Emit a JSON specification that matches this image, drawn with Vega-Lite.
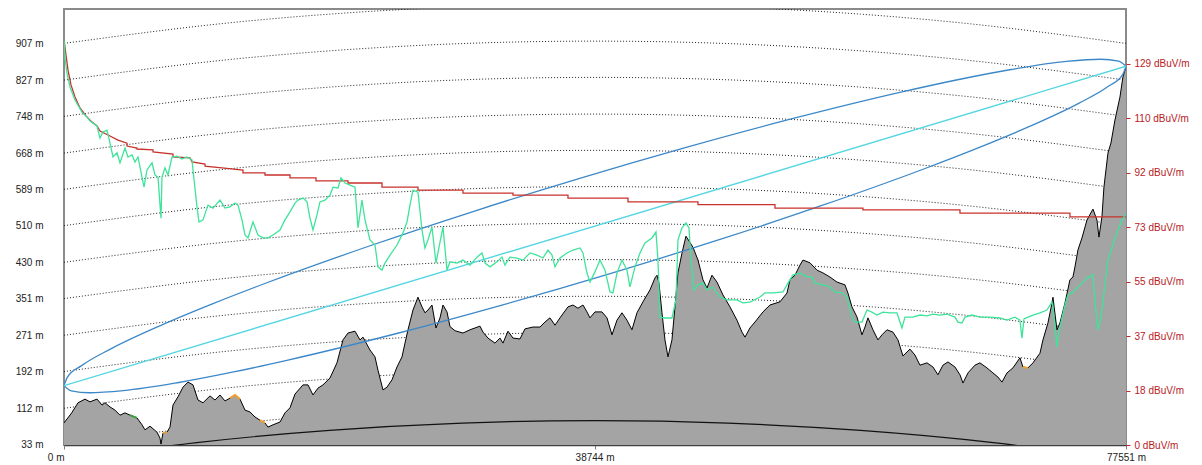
{
  "$schema": "https://vega.github.io/schema/vega-lite/v6.json",
  "width": 1062,
  "height": 436,
  "autosize": {"type": "none"},
  "padding": {"left": 64, "top": 9, "right": 76, "bottom": 20},
  "background": "#ffffff",
  "config": {
    "view": {"stroke": "#8a8a8a", "strokeWidth": 2},
    "font": "Liberation Sans",
    "axis": {"labelFont": "Liberation Sans", "labelFontSize": 10, "grid": false, "title": null}
  },
  "datasets": {
    "terrain": [
      {"d":0,"m":80},{"d":562,"m":102},{"d":1022,"m":124},{"d":1533,"m":132},{"d":1899,"m":126},{"d":2410,"m":132},{"d":2775,"m":119},{"d":2994,"m":124},{"d":3359,"m":115},{"d":3724,"m":108},{"d":4089,"m":97},{"d":4454,"m":102},{"d":4819,"m":97},{"d":5330,"m":91},{"d":5696,"m":76},{"d":5915,"m":65},{"d":6280,"m":73},{"d":6791,"m":60},{"d":7010,"m":47},{"d":7083,"m":34},{"d":7229,"m":58},{"d":7521,"m":60},{"d":7740,"m":71},{"d":7959,"m":119},{"d":8324,"m":137},{"d":8689,"m":158},{"d":9054,"m":169},{"d":9420,"m":163},{"d":9785,"m":130},{"d":10150,"m":124},{"d":10661,"m":139},{"d":11026,"m":130},{"d":11391,"m":141},{"d":11756,"m":128},{"d":12121,"m":134},{"d":12486,"m":141},{"d":12852,"m":132},{"d":13217,"m":108},{"d":13582,"m":104},{"d":13947,"m":93},{"d":14312,"m":86},{"d":14677,"m":80},{"d":14896,"m":71},{"d":15261,"m":76},{"d":15772,"m":82},{"d":16137,"m":102},{"d":16503,"m":113},{"d":16868,"m":143},{"d":17452,"m":163},{"d":17817,"m":163},{"d":18182,"m":141},{"d":18547,"m":156},{"d":18912,"m":163},{"d":19423,"m":178},{"d":19934,"m":211},{"d":20373,"m":261},{"d":20738,"m":276},{"d":21249,"m":280},{"d":21614,"m":261},{"d":21833,"m":267},{"d":22344,"m":239},{"d":22709,"m":224},{"d":22928,"m":195},{"d":23293,"m":152},{"d":23585,"m":158},{"d":23951,"m":174},{"d":24316,"m":202},{"d":24681,"m":224},{"d":24900,"m":254},{"d":25119,"m":283},{"d":25484,"m":326},{"d":25849,"m":354},{"d":26141,"m":333},{"d":26360,"m":320},{"d":26579,"m":326},{"d":26871,"m":337},{"d":27163,"m":287},{"d":27456,"m":309},{"d":27675,"m":337},{"d":27967,"m":322},{"d":28186,"m":290},{"d":28551,"m":281},{"d":29135,"m":276},{"d":29646,"m":283},{"d":30376,"m":291},{"d":30595,"m":278},{"d":30960,"m":265},{"d":31472,"m":254},{"d":31837,"m":265},{"d":32056,"m":254},{"d":32421,"m":280},{"d":32786,"m":265},{"d":33297,"m":263},{"d":33662,"m":285},{"d":34246,"m":289},{"d":34758,"m":289},{"d":35123,"m":300},{"d":35488,"m":309},{"d":35853,"m":293},{"d":36218,"m":309},{"d":36802,"m":333},{"d":37167,"m":337},{"d":37532,"m":330},{"d":37897,"m":337},{"d":38189,"m":322},{"d":38409,"m":309},{"d":38774,"m":322},{"d":39285,"m":322},{"d":39650,"m":309},{"d":40015,"m":272},{"d":40380,"m":304},{"d":40745,"m":320},{"d":41110,"m":304},{"d":41475,"m":283},{"d":41840,"m":320},{"d":42279,"m":344},{"d":42790,"m":370},{"d":43155,"m":396},{"d":43301,"m":402},{"d":43447,"m":385},{"d":43666,"m":320},{"d":43885,"m":261},{"d":44104,"m":224},{"d":44396,"m":261},{"d":44615,"m":333},{"d":44834,"m":407},{"d":45126,"m":450},{"d":45418,"m":487},{"d":45929,"m":463},{"d":46295,"m":435},{"d":46660,"m":392},{"d":46952,"m":374},{"d":47317,"m":402},{"d":47682,"m":387},{"d":48120,"m":359},{"d":48631,"m":333},{"d":49142,"m":304},{"d":49508,"m":278},{"d":49727,"m":267},{"d":50092,"m":287},{"d":50457,"m":300},{"d":51041,"m":322},{"d":51552,"m":337},{"d":52282,"m":344},{"d":52793,"m":363},{"d":53013,"m":392},{"d":53378,"m":402},{"d":53743,"m":424},{"d":53962,"m":435},{"d":54473,"m":429},{"d":54984,"m":413},{"d":55422,"m":407},{"d":55933,"m":398},{"d":56444,"m":387},{"d":57029,"m":381},{"d":57248,"m":363},{"d":57540,"m":333},{"d":57905,"m":311},{"d":58270,"m":272},{"d":58489,"m":289},{"d":58708,"m":309},{"d":59073,"m":283},{"d":59438,"m":261},{"d":59730,"m":272},{"d":60095,"m":283},{"d":60534,"m":278},{"d":60899,"m":261},{"d":61264,"m":226},{"d":61775,"m":241},{"d":62140,"m":228},{"d":62505,"m":206},{"d":63016,"m":211},{"d":63454,"m":202},{"d":63819,"m":185},{"d":64185,"m":206},{"d":64550,"m":213},{"d":65061,"m":202},{"d":65426,"m":185},{"d":65645,"m":167},{"d":66010,"m":189},{"d":66521,"m":206},{"d":66886,"m":211},{"d":67397,"m":200},{"d":67836,"m":189},{"d":68201,"m":180},{"d":68493,"m":169},{"d":68858,"m":189},{"d":69296,"m":200},{"d":69807,"m":222},{"d":70026,"m":202},{"d":70391,"m":200},{"d":70756,"m":211},{"d":71268,"m":232},{"d":71487,"m":261},{"d":71852,"m":298},{"d":72144,"m":341},{"d":72217,"m":354},{"d":72509,"m":283},{"d":72728,"m":298},{"d":73093,"m":341},{"d":73458,"m":392},{"d":73677,"m":398},{"d":73823,"m":420},{"d":74042,"m":457},{"d":74334,"m":483},{"d":74699,"m":522},{"d":75138,"m":546},{"d":75430,"m":522},{"d":75576,"m":485},{"d":75795,"m":529},{"d":75941,"m":594},{"d":76233,"m":668},{"d":76452,"m":690},{"d":76744,"m":740},{"d":77109,"m":790},{"d":77328,"m":834},{"d":77551,"m":856}
    ],
    "clutter": [
      {"seg":"a","kind":"brush","d":4819,"m":97},{"seg":"a","kind":"brush","d":5330,"m":91},
      {"seg":"b","kind":"built","d":7229,"m":58},{"seg":"b","kind":"built","d":7521,"m":60},
      {"seg":"c","kind":"built","d":12121,"m":134},{"seg":"c","kind":"built","d":12486,"m":141},{"seg":"c","kind":"built","d":12852,"m":132},
      {"seg":"d","kind":"built","d":14312,"m":86},{"seg":"d","kind":"built","d":14677,"m":80},
      {"seg":"e","kind":"built","d":70026,"m":202},{"seg":"e","kind":"built","d":70391,"m":200}
    ],
    "arcs": [
      {"lvl":33,"d":0,"m":33},{"lvl":33,"d":9694,"m":70.2},{"lvl":33,"d":19388,"m":96.8},{"lvl":33,"d":29082,"m":112.7},{"lvl":33,"d":38776,"m":118},{"lvl":33,"d":48469,"m":112.7},{"lvl":33,"d":58163,"m":96.8},{"lvl":33,"d":67857,"m":70.2},{"lvl":33,"d":77551,"m":33},
      {"lvl":112,"d":0,"m":112},{"lvl":112,"d":9694,"m":149.2},{"lvl":112,"d":19388,"m":175.8},{"lvl":112,"d":29082,"m":191.7},{"lvl":112,"d":38776,"m":197},{"lvl":112,"d":48469,"m":191.7},{"lvl":112,"d":58163,"m":175.8},{"lvl":112,"d":67857,"m":149.2},{"lvl":112,"d":77551,"m":112},
      {"lvl":192,"d":0,"m":192},{"lvl":192,"d":9694,"m":229.2},{"lvl":192,"d":19388,"m":255.8},{"lvl":192,"d":29082,"m":271.7},{"lvl":192,"d":38776,"m":277},{"lvl":192,"d":48469,"m":271.7},{"lvl":192,"d":58163,"m":255.8},{"lvl":192,"d":67857,"m":229.2},{"lvl":192,"d":77551,"m":192},
      {"lvl":271,"d":0,"m":271},{"lvl":271,"d":9694,"m":308.2},{"lvl":271,"d":19388,"m":334.8},{"lvl":271,"d":29082,"m":350.7},{"lvl":271,"d":38776,"m":356},{"lvl":271,"d":48469,"m":350.7},{"lvl":271,"d":58163,"m":334.8},{"lvl":271,"d":67857,"m":308.2},{"lvl":271,"d":77551,"m":271},
      {"lvl":351,"d":0,"m":351},{"lvl":351,"d":9694,"m":388.2},{"lvl":351,"d":19388,"m":414.8},{"lvl":351,"d":29082,"m":430.7},{"lvl":351,"d":38776,"m":436},{"lvl":351,"d":48469,"m":430.7},{"lvl":351,"d":58163,"m":414.8},{"lvl":351,"d":67857,"m":388.2},{"lvl":351,"d":77551,"m":351},
      {"lvl":430,"d":0,"m":430},{"lvl":430,"d":9694,"m":467.2},{"lvl":430,"d":19388,"m":493.8},{"lvl":430,"d":29082,"m":509.7},{"lvl":430,"d":38776,"m":515},{"lvl":430,"d":48469,"m":509.7},{"lvl":430,"d":58163,"m":493.8},{"lvl":430,"d":67857,"m":467.2},{"lvl":430,"d":77551,"m":430},
      {"lvl":510,"d":0,"m":510},{"lvl":510,"d":9694,"m":547.2},{"lvl":510,"d":19388,"m":573.8},{"lvl":510,"d":29082,"m":589.7},{"lvl":510,"d":38776,"m":595},{"lvl":510,"d":48469,"m":589.7},{"lvl":510,"d":58163,"m":573.8},{"lvl":510,"d":67857,"m":547.2},{"lvl":510,"d":77551,"m":510},
      {"lvl":589,"d":0,"m":589},{"lvl":589,"d":9694,"m":626.2},{"lvl":589,"d":19388,"m":652.8},{"lvl":589,"d":29082,"m":668.7},{"lvl":589,"d":38776,"m":674},{"lvl":589,"d":48469,"m":668.7},{"lvl":589,"d":58163,"m":652.8},{"lvl":589,"d":67857,"m":626.2},{"lvl":589,"d":77551,"m":589},
      {"lvl":668,"d":0,"m":668},{"lvl":668,"d":9694,"m":705.2},{"lvl":668,"d":19388,"m":731.8},{"lvl":668,"d":29082,"m":747.7},{"lvl":668,"d":38776,"m":753},{"lvl":668,"d":48469,"m":747.7},{"lvl":668,"d":58163,"m":731.8},{"lvl":668,"d":67857,"m":705.2},{"lvl":668,"d":77551,"m":668},
      {"lvl":748,"d":0,"m":748},{"lvl":748,"d":9694,"m":785.2},{"lvl":748,"d":19388,"m":811.8},{"lvl":748,"d":29082,"m":827.7},{"lvl":748,"d":38776,"m":833},{"lvl":748,"d":48469,"m":827.7},{"lvl":748,"d":58163,"m":811.8},{"lvl":748,"d":67857,"m":785.2},{"lvl":748,"d":77551,"m":748},
      {"lvl":827,"d":0,"m":827},{"lvl":827,"d":9694,"m":864.2},{"lvl":827,"d":19388,"m":890.8},{"lvl":827,"d":29082,"m":906.7},{"lvl":827,"d":38776,"m":912},{"lvl":827,"d":48469,"m":906.7},{"lvl":827,"d":58163,"m":890.8},{"lvl":827,"d":67857,"m":864.2},{"lvl":827,"d":77551,"m":827},
      {"lvl":907,"d":0,"m":907},{"lvl":907,"d":9694,"m":944.2},{"lvl":907,"d":19388,"m":970.8},{"lvl":907,"d":29082,"m":986.7},{"lvl":907,"d":38776,"m":992},{"lvl":907,"d":48469,"m":986.7},{"lvl":907,"d":58163,"m":970.8},{"lvl":907,"d":67857,"m":944.2},{"lvl":907,"d":77551,"m":907}
    ],
    "sea": [
      {"d":0,"m":0},{"d":9694,"m":37.2},{"d":19388,"m":63.8},{"d":29082,"m":79.7},{"d":38776,"m":85},{"d":48469,"m":79.7},{"d":58163,"m":63.8},{"d":67857,"m":37.2},{"d":77551,"m":0}
    ],
    "fresnel": [
      {"part":"upper","d":0,"m":161.2},{"part":"upper","d":240,"m":179.4},{"part":"upper","d":1257,"m":204.4},{"part":"upper","d":3419,"m":241.5},{"part":"upper","d":7124,"m":293.4},{"part":"upper","d":10882,"m":340.1},{"part":"upper","d":14669,"m":383.9},{"part":"upper","d":22301,"m":465.6},{"part":"upper","d":29989,"m":541.8},{"part":"upper","d":37722,"m":613.5},{"part":"upper","d":45498,"m":681.0},{"part":"upper","d":53320,"m":744.0},{"part":"upper","d":61196,"m":801.4},{"part":"upper","d":65163,"m":827.3},{"part":"upper","d":69161,"m":850.2},{"part":"upper","d":73212,"m":867.9},{"part":"upper","d":75702,"m":872.5},{"part":"upper","d":77011,"m":868.4},{"part":"upper","d":77551,"m":857.2},
      {"part":"lower","d":0,"m":161.2},{"part":"lower","d":536,"m":150.0},{"part":"lower","d":1845,"m":145.9},{"part":"lower","d":4336,"m":150.5},{"part":"lower","d":8386,"m":168.2},{"part":"lower","d":12383,"m":191.1},{"part":"lower","d":16351,"m":217.0},{"part":"lower","d":24228,"m":274.4},{"part":"lower","d":32049,"m":337.4},{"part":"lower","d":39825,"m":404.9},{"part":"lower","d":47558,"m":476.6},{"part":"lower","d":55245,"m":552.8},{"part":"lower","d":62878,"m":634.5},{"part":"lower","d":66665,"m":678.3},{"part":"lower","d":70423,"m":725.0},{"part":"lower","d":74128,"m":776.9},{"part":"lower","d":76290,"m":814.0},{"part":"lower","d":77307,"m":839.0},{"part":"lower","d":77551,"m":857.2}
    ],
    "los": [
      {"d":0,"m":161.2},{"d":77551,"m":857.2}
    ],
    "red": [
      {"d":0,"db":137.4},{"d":146,"db":132.0},{"d":292,"db":126.9},{"d":511,"db":121.9},{"d":803,"db":117.8},{"d":1168,"db":114.1},{"d":1606,"db":111.4},{"d":2045,"db":109.3},{"d":2410,"db":108.0},{"d":2629,"db":106.3},{"d":3359,"db":104.6},{"d":3943,"db":103.2},{"d":4600,"db":102.2},{"d":4601,"db":101.2},{"d":5330,"db":100.5},{"d":5331,"db":100.2},{"d":6499,"db":99.9},{"d":6500,"db":99.2},{"d":7959,"db":98.5},{"d":7960,"db":97.5},{"d":9201,"db":97.2},{"d":9347,"db":95.8},{"d":10296,"db":95.1},{"d":10297,"db":94.4},{"d":11537,"db":93.8},{"d":13071,"db":93.1},{"d":13072,"db":92.1},{"d":14677,"db":92.1},{"d":14678,"db":91.4},{"d":16503,"db":91.4},{"d":16504,"db":90.4},{"d":18401,"db":90.4},{"d":18402,"db":89.4},{"d":20738,"db":89.4},{"d":20739,"db":88.7},{"d":23220,"db":88.7},{"d":23221,"db":87.3},{"d":25849,"db":87.3},{"d":25850,"db":86.3},{"d":29135,"db":86.3},{"d":29136,"db":85.3},{"d":32786,"db":85.3},{"d":32787,"db":84.6},{"d":36802,"db":84.6},{"d":36803,"db":83.6},{"d":41183,"db":83.6},{"d":41184,"db":82.3},{"d":46295,"db":82.3},{"d":46296,"db":81.4},{"d":51917,"db":81.4},{"d":51918,"db":80.2},{"d":58343,"db":80.2},{"d":58344,"db":79.6},{"d":65426,"db":79.6},{"d":65427,"db":78.5},{"d":73458,"db":78.5},{"d":73459,"db":77.2},{"d":77551,"db":77.2}
    ],
    "green": [
      {"d":0,"db":137.4},{"d":73,"db":131.0},{"d":219,"db":125.9},{"d":438,"db":121.2},{"d":803,"db":116.8},{"d":1314,"db":112.7},{"d":1679,"db":111.0},{"d":1899,"db":109.7},{"d":2410,"db":108.0},{"d":2629,"db":103.9},{"d":2848,"db":106.0},{"d":3140,"db":106.6},{"d":3359,"db":102.2},{"d":3578,"db":97.5},{"d":3870,"db":98.9},{"d":4089,"db":95.5},{"d":4454,"db":100.5},{"d":4673,"db":97.5},{"d":4965,"db":98.2},{"d":5184,"db":95.8},{"d":5403,"db":97.5},{"d":5696,"db":90.7},{"d":5842,"db":87.3},{"d":6061,"db":93.1},{"d":6426,"db":95.5},{"d":6645,"db":91.4},{"d":6864,"db":90.7},{"d":7083,"db":76.8},{"d":7156,"db":90.7},{"d":7375,"db":93.8},{"d":7594,"db":91.4},{"d":7886,"db":97.5},{"d":8251,"db":97.8},{"d":8616,"db":96.8},{"d":8981,"db":97.5},{"d":9347,"db":96.5},{"d":9420,"db":93.1},{"d":9712,"db":80.6},{"d":9858,"db":75.5},{"d":10150,"db":76.2},{"d":10515,"db":81.2},{"d":10880,"db":80.2},{"d":11391,"db":82.9},{"d":11756,"db":80.2},{"d":12121,"db":80.6},{"d":12486,"db":81.9},{"d":12705,"db":81.2},{"d":12998,"db":76.2},{"d":13217,"db":71.1},{"d":13436,"db":70.1},{"d":13801,"db":75.5},{"d":14166,"db":71.1},{"d":14531,"db":70.1},{"d":14896,"db":70.1},{"d":15261,"db":71.1},{"d":15772,"db":72.8},{"d":16137,"db":76.2},{"d":16503,"db":78.9},{"d":16868,"db":81.9},{"d":17087,"db":82.9},{"d":17452,"db":83.6},{"d":17744,"db":82.3},{"d":17963,"db":76.8},{"d":18182,"db":72.8},{"d":18474,"db":77.9},{"d":18693,"db":82.3},{"d":19058,"db":82.9},{"d":19423,"db":84.6},{"d":19642,"db":87.3},{"d":20007,"db":87.0},{"d":20227,"db":90.4},{"d":20519,"db":88.7},{"d":20884,"db":88.0},{"d":21249,"db":87.3},{"d":21468,"db":73.5},{"d":21760,"db":82.9},{"d":21979,"db":76.2},{"d":22344,"db":69.4},{"d":22709,"db":67.7},{"d":22928,"db":60.3},{"d":23220,"db":59.2},{"d":23439,"db":61.6},{"d":23805,"db":64.3},{"d":24316,"db":67.7},{"d":24754,"db":71.8},{"d":25046,"db":75.5},{"d":25265,"db":81.2},{"d":25484,"db":86.3},{"d":25849,"db":85.6},{"d":26141,"db":72.8},{"d":26360,"db":66.7},{"d":26579,"db":69.4},{"d":26871,"db":73.8},{"d":27163,"db":61.6},{"d":27456,"db":68.7},{"d":27675,"db":73.8},{"d":27967,"db":59.2},{"d":28186,"db":62.0},{"d":28697,"db":61.6},{"d":29135,"db":62.6},{"d":29646,"db":60.9},{"d":30157,"db":63.6},{"d":30522,"db":65.0},{"d":30741,"db":61.6},{"d":31107,"db":60.3},{"d":31618,"db":62.0},{"d":31983,"db":63.6},{"d":32202,"db":60.9},{"d":32567,"db":63.6},{"d":33078,"db":63.3},{"d":33516,"db":62.6},{"d":34027,"db":65.0},{"d":34538,"db":64.3},{"d":34977,"db":63.3},{"d":35342,"db":66.0},{"d":35634,"db":64.3},{"d":35853,"db":60.3},{"d":36218,"db":63.3},{"d":36729,"db":65.0},{"d":37167,"db":66.0},{"d":37678,"db":66.7},{"d":37897,"db":65.0},{"d":38189,"db":58.2},{"d":38409,"db":55.2},{"d":38774,"db":58.6},{"d":39139,"db":62.6},{"d":39504,"db":59.2},{"d":39869,"db":51.8},{"d":40088,"db":51.5},{"d":40380,"db":58.2},{"d":40745,"db":62.6},{"d":41110,"db":59.2},{"d":41329,"db":53.5},{"d":41694,"db":60.3},{"d":42060,"db":65.0},{"d":42425,"db":68.4},{"d":42936,"db":70.1},{"d":43228,"db":72.1},{"d":43374,"db":62.6},{"d":43520,"db":43.3},{"d":43885,"db":43.0},{"d":44396,"db":43.0},{"d":44688,"db":49.1},{"d":44834,"db":69.4},{"d":45126,"db":73.5},{"d":45418,"db":75.2},{"d":45637,"db":73.5},{"d":45783,"db":62.6},{"d":46003,"db":52.5},{"d":46295,"db":54.2},{"d":46660,"db":54.8},{"d":46952,"db":52.5},{"d":47390,"db":53.5},{"d":47901,"db":50.1},{"d":48412,"db":49.1},{"d":49142,"db":49.1},{"d":49581,"db":48.1},{"d":50092,"db":48.4},{"d":50822,"db":50.1},{"d":51187,"db":51.5},{"d":51771,"db":51.5},{"d":52501,"db":51.8},{"d":52866,"db":54.8},{"d":53232,"db":57.6},{"d":53743,"db":58.2},{"d":54254,"db":56.9},{"d":54619,"db":56.9},{"d":54838,"db":54.8},{"d":55422,"db":54.2},{"d":55933,"db":53.5},{"d":56298,"db":51.8},{"d":56810,"db":51.5},{"d":57175,"db":50.1},{"d":57540,"db":43.3},{"d":57759,"db":41.6},{"d":58270,"db":41.6},{"d":58635,"db":45.7},{"d":59000,"db":45.0},{"d":59365,"db":44.0},{"d":59803,"db":45.0},{"d":60315,"db":44.7},{"d":60826,"db":44.7},{"d":61191,"db":39.6},{"d":61410,"db":43.3},{"d":61994,"db":43.3},{"d":62505,"db":44.0},{"d":63016,"db":43.7},{"d":63454,"db":44.3},{"d":63966,"db":44.0},{"d":64477,"db":44.3},{"d":65061,"db":43.3},{"d":65280,"db":41.6},{"d":65572,"db":41.3},{"d":65791,"db":43.3},{"d":66302,"db":44.0},{"d":66886,"db":43.3},{"d":67617,"db":43.3},{"d":68347,"db":43.0},{"d":68858,"db":42.3},{"d":69442,"db":43.3},{"d":69807,"db":42.3},{"d":69953,"db":36.2},{"d":70099,"db":42.7},{"d":70391,"db":43.3},{"d":70756,"db":44.0},{"d":71268,"db":44.7},{"d":71779,"db":45.7},{"d":72144,"db":48.4},{"d":72217,"db":46.7},{"d":72363,"db":39.9},{"d":72509,"db":33.2},{"d":72582,"db":36.6},{"d":72874,"db":43.0},{"d":73093,"db":47.4},{"d":73312,"db":50.8},{"d":73677,"db":51.8},{"d":74334,"db":54.8},{"d":74699,"db":56.5},{"d":75138,"db":57.6},{"d":75284,"db":49.1},{"d":75503,"db":38.9},{"d":75722,"db":43.0},{"d":76233,"db":62.6},{"d":76744,"db":70.1},{"d":77255,"db":76.2},{"d":77551,"db":78.2}
    ]
  },
  "encoding": {
    "x": {
      "field": "d",
      "type": "quantitative",
      "scale": {"domain": [0, 77551], "nice": false, "zero": false},
      "axis": {
        "values": [0, 38744, 77551],
        "labelExpr": "datum.value + ' m'",
        "labelFlush": false,
        "labelOverlap": false,
        "tickSize": 4,
        "tickColor": "#808080",
        "domainColor": "#404040",
        "domainWidth": 1.5,
        "labelColor": "#222222",
        "labelPadding": 3,
        "labelAlign": {"condition": {"test": "datum.value == 0", "value": "right"}, "value": "center"},
        "title": null
      }
    }
  },
  "layer": [
    {
      "encoding": {
        "y": {
          "field": "m",
          "type": "quantitative",
          "scale": {"domain": [32, 982], "nice": false, "zero": false},
          "axis": {
            "orient": "left",
            "values": [33, 112, 192, 271, 351, 430, 510, 589, 668, 748, 827, 907],
            "labelExpr": "datum.value + ' m'",
            "ticks": false,
            "tickSize": 0,
            "domain": false,
            "labelPadding": 21,
            "labelColor": "#222222",
            "title": null
          }
        }
      },
      "layer": [
        {
          "data": {"name": "arcs"},
          "mark": {"type": "line", "interpolate": "natural", "strokeDash": [1, 2], "color": "#222222", "strokeWidth": 1, "clip": true},
          "encoding": {"detail": {"field": "lvl"}}
        },
        {
          "data": {"name": "terrain"},
          "mark": {"type": "area", "color": "#a4a4a4", "clip": true},
          "encoding": {"y2": {"datum": 32}}
        },
        {
          "data": {"name": "sea"},
          "mark": {"type": "line", "interpolate": "natural", "color": "#111111", "strokeWidth": 1.2, "clip": true},
          "encoding": {}
        },
        {
          "data": {"name": "terrain"},
          "mark": {"type": "line", "color": "#000000", "strokeWidth": 1, "clip": true},
          "encoding": {}
        },
        {
          "data": {"name": "clutter"},
          "mark": {"type": "line", "strokeWidth": 2, "clip": true},
          "encoding": {
            "detail": {"field": "seg"},
            "color": {"field": "kind", "type": "nominal", "scale": {"domain": ["brush", "built"], "range": ["#3aa040", "#f0a030"]}, "legend": null}
          }
        },
        {
          "data": {"name": "fresnel"},
          "mark": {"type": "line", "interpolate": "monotone", "color": "#3c88c8", "strokeWidth": 1.3, "clip": true},
          "encoding": {"detail": {"field": "part"}}
        },
        {
          "data": {"name": "los"},
          "mark": {"type": "line", "color": "#55d6e2", "strokeWidth": 1.4, "clip": true},
          "encoding": {}
        }
      ]
    },
    {
      "encoding": {
        "y": {
          "field": "db",
          "type": "quantitative",
          "scale": {"domain": [0, 147.6], "nice": false, "zero": false},
          "axis": {
            "orient": "right",
            "values": [0, 18.43, 36.86, 55.29, 73.71, 92.14, 110.57, 129],
            "labelExpr": "['0','18','37','55','73','92','110','129'][round(datum.value / 18.43)] + ' dBuV/m'",
            "tickSize": 4,
            "tickColor": "#c0282a",
            "labelColor": "#b8201e",
            "labelPadding": 4,
            "domain": false,
            "title": null
          }
        }
      },
      "layer": [
        {
          "data": {"name": "red"},
          "mark": {"type": "line", "color": "#c8322c", "strokeWidth": 1.3, "clip": true},
          "encoding": {}
        },
        {
          "data": {"name": "green"},
          "mark": {"type": "line", "color": "#3de49a", "strokeWidth": 1.3, "clip": true},
          "encoding": {}
        }
      ]
    }
  ],
  "resolve": {"scale": {"y": "independent"}}
}
